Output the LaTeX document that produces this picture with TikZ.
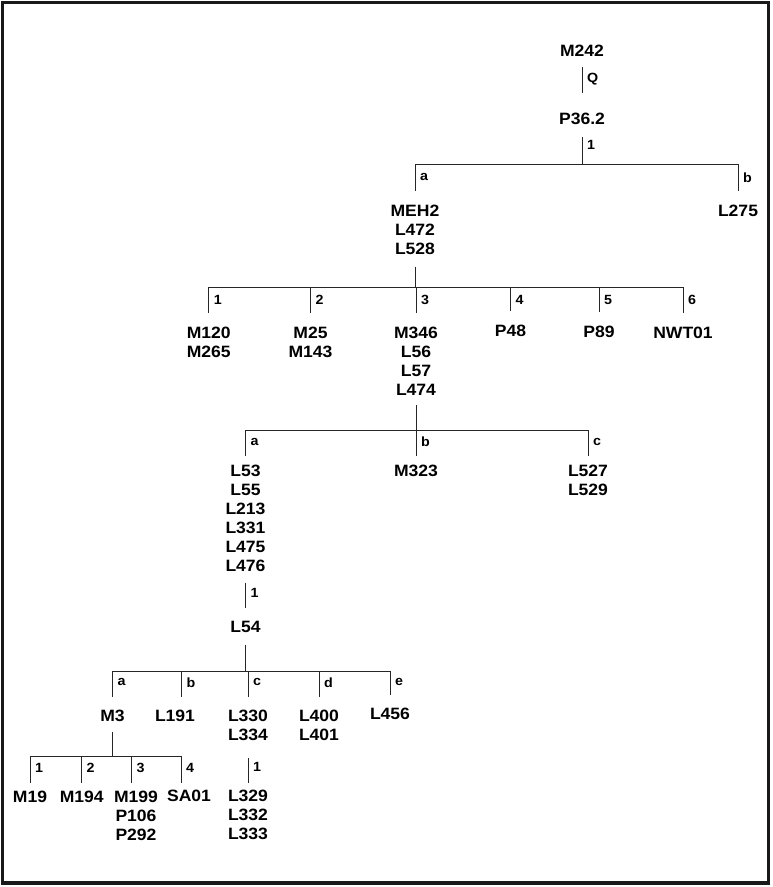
\documentclass[tikz,border=0pt]{standalone}
\usepackage{fontspec}
\setmainfont{Liberation Sans}[FakeStretch=1.07]
\usepackage{tikz}

\begin{document}
\begin{tikzpicture}[
  x=0.75pt, y=-0.75pt,
  hap/.style={font=\fontsize{12.3}{14.25}\selectfont\bfseries, align=center, inner sep=0pt, outer sep=0pt, anchor=north},
  lbl/.style={font=\fontsize{10}{11}\selectfont\bfseries, inner sep=0pt, anchor=west, xshift=3.4pt},
  lnk/.style={draw=black!85, line width=0.7pt},
  frame/.style={draw=black!90, line width=2.5pt}
]
\useasboundingbox (0,0) rectangle (772,887);
\draw[frame] (2.7,2.7) rectangle (768.7,883);

% haplogroups
\node[hap] (m242) at (582,44.9) {M242};
\node[hap] (p362) at (582,113.5) {P36.2};
\node[hap] (meh2) at (415,205.2) {MEH2\\L472\\L528};
\node[hap] (l275) at (738,205.2) {L275};
\node[hap] (m120) at (208.8,326.9) {M120\\M265};
\node[hap] (m25) at (310.5,326.9) {M25\\M143};
\node[hap] (m346) at (416,326.9) {M346\\L56\\L57\\L474};
\node[hap] (p48) at (510.5,325.5) {P48};
\node[hap] (p89) at (599,325.9) {P89};
\node[hap] (nwt01) at (683,326.9) {NWT01};
\node[hap] (l53) at (245.5,464.9) {L53\\L55\\L213\\L331\\L475\\L476};
\node[hap] (m323) at (416,464.9) {M323};
\node[hap] (l527) at (588,464.9) {L527\\L529};
\node[hap] (l54) at (245.5,621.5) {L54};
\node[hap] (m3) at (112.5,709.9) {M3};
\node[hap] (l191) at (175,709.9) {L191};
\node[hap] (l330) at (248,709.9) {L330\\L334};
\node[hap] (l400) at (319,709.9) {L400\\L401};
\node[hap] (l456) at (390,708.5) {L456};
\node[hap] (m19) at (30,790.9) {M19};
\node[hap] (m194) at (81.7,790.9) {M194};
\node[hap] (m199) at (136,790.9) {M199\\P106\\P292};
\node[hap] (sa01) at (189,789.9) {SA01};
\node[hap] (l329) at (248,789.9) {L329\\L332\\L333};

% bar joints
\coordinate (j1) at (582,164.3);
\coordinate (j2) at (415,287.7);
\coordinate (j3) at (416,430.7);
\coordinate (j5) at (245.5,671.7);
\coordinate (j6) at (112.5,756.7);

% stems
\draw[lnk, shorten <=8pt, shorten >=15.6pt] (m242) -- node[lbl, pos=.4] {Q} (p362);
\draw[lnk, shorten <=9.1pt] (p362) -- node[lbl, pos=.5] {1} (j1);
\draw[lnk, shorten <=8.85pt] (meh2) -- (j2);
\draw[lnk, shorten <=7.05pt] (m346) -- (j3);
\draw[lnk, shorten <=8.3pt, shorten >=10.1pt] (l53) -- node[lbl, pos=.43] {1} (l54);
\draw[lnk, shorten <=8.85pt] (l54) -- (j5);
\draw[lnk, shorten <=7.6pt] (m3) -- (j6);
\draw[lnk, shorten <=13.3pt, shorten >=4.95pt] (l330) -- node[lbl, pos=.53] {1} (l329);

% branches
\foreach \c/\t in {meh2/a, l275/b}
  \draw[lnk, shorten >=10.9pt] (j1) -| node[lbl, pos=.66] {\t} (\c);
\foreach \c/\t in {m120/1, m25/2, m346/3, p48/4, p89/5, nwt01/6}
  \draw[lnk, shorten >=10.65pt] (j2) -| node[lbl, pos=.66] {\t} (\c);
\foreach \c/\t in {l53/a, m323/b, l527/c}
  \draw[lnk, shorten >=6.9pt] (j3) -| node[lbl, pos=.66] {\t} (\c);
\foreach \c/\t in {m3/a, l330/c, l400/d, l456/e}
  \draw[lnk, shorten >=9.9pt] (j5) -| node[lbl, pos=.64] {\t} (\c);
\draw[lnk, shorten >=9.9pt] (j5) -| node[lbl, pos=.64] {b} ([xshift=5pt]l191.north);
\foreach \c/\t in {m19/1, m194/2}
  \draw[lnk, shorten >=5.7pt] (j6) -| node[lbl, pos=.67] {\t} (\c);
\draw[lnk, shorten >=5.7pt] (j6) -| node[lbl, pos=.67] {3} ([xshift=-3.2pt]m199.north);
\draw[lnk, shorten >=4.95pt] (j6) -| node[lbl, pos=.67] {4} ([xshift=-6pt]sa01.north);
\end{tikzpicture}
\end{document}
